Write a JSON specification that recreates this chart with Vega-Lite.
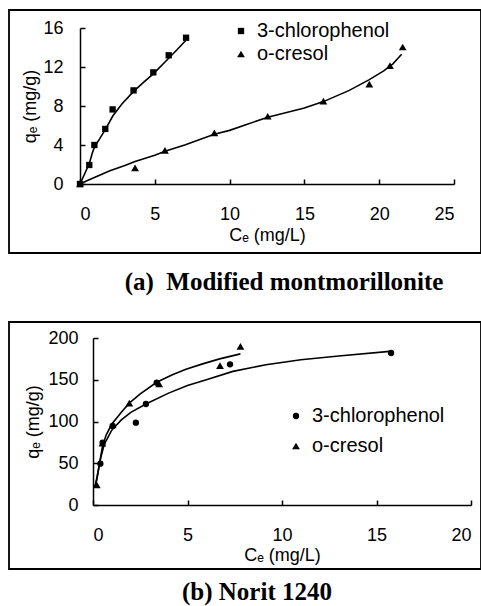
{
  "$schema": "https://vega.github.io/schema/vega-lite/v6.json",
  "padding": {"left": 8, "top": 9, "right": 0, "bottom": 0},
  "background": "white",
  "bounds": "flush",
  "spacing": 69,
  "config": {
    "view": {"stroke": "black", "strokeWidth": 1.8},
    "axis": {
      "grid": false,
      "domainColor": "black", "domainWidth": 1.5,
      "tickColor": "black", "tickWidth": 1.5, "tickSize": -5,
      "labelColor": "black", "labelFont": "Liberation Sans", "labelFontSize": 18,
      "titleColor": "black", "titleFont": "Liberation Sans", "titleFontSize": 18, "titleFontWeight": "normal"
    },
    "legend": {
      "labelFont": "Liberation Sans", "labelFontSize": 20, "labelColor": "black",
      "padding": 0, "symbolFillColor": "black", "symbolStrokeColor": "black", "labelOffset": 6
    }
  },
  "datasets": {
    "aPoints": [
      {"series": "3-chlorophenol", "Ce": 0, "qe": 0},
      {"series": "3-chlorophenol", "Ce": 0.62, "qe": 1.95},
      {"series": "3-chlorophenol", "Ce": 0.96, "qe": 4.0},
      {"series": "3-chlorophenol", "Ce": 1.69, "qe": 5.65},
      {"series": "3-chlorophenol", "Ce": 2.18, "qe": 7.65},
      {"series": "3-chlorophenol", "Ce": 3.58, "qe": 9.6},
      {"series": "3-chlorophenol", "Ce": 4.9, "qe": 11.45},
      {"series": "3-chlorophenol", "Ce": 5.93, "qe": 13.2},
      {"series": "3-chlorophenol", "Ce": 7.09, "qe": 15.0},
      {"series": "o-cresol", "Ce": 0, "qe": 0},
      {"series": "o-cresol", "Ce": 3.68, "qe": 1.65},
      {"series": "o-cresol", "Ce": 5.68, "qe": 3.45},
      {"series": "o-cresol", "Ce": 8.98, "qe": 5.25},
      {"series": "o-cresol", "Ce": 12.55, "qe": 6.95},
      {"series": "o-cresol", "Ce": 16.27, "qe": 8.5},
      {"series": "o-cresol", "Ce": 19.34, "qe": 10.25},
      {"series": "o-cresol", "Ce": 20.72, "qe": 12.15},
      {"series": "o-cresol", "Ce": 21.57, "qe": 14.05}
    ],
    "aCurve": [
      {"series": "3-chlorophenol", "Ce": 0, "qe": 0},
      {"series": "3-chlorophenol", "Ce": 0.3, "qe": 1.0},
      {"series": "3-chlorophenol", "Ce": 0.62, "qe": 2.1},
      {"series": "3-chlorophenol", "Ce": 0.85, "qe": 3.3},
      {"series": "3-chlorophenol", "Ce": 1.0, "qe": 3.9},
      {"series": "3-chlorophenol", "Ce": 1.3, "qe": 4.6},
      {"series": "3-chlorophenol", "Ce": 1.7, "qe": 5.6},
      {"series": "3-chlorophenol", "Ce": 2.2, "qe": 7.0},
      {"series": "3-chlorophenol", "Ce": 2.8, "qe": 8.2},
      {"series": "3-chlorophenol", "Ce": 3.58, "qe": 9.5},
      {"series": "3-chlorophenol", "Ce": 4.3, "qe": 10.5},
      {"series": "3-chlorophenol", "Ce": 4.9, "qe": 11.3},
      {"series": "3-chlorophenol", "Ce": 5.93, "qe": 12.9},
      {"series": "3-chlorophenol", "Ce": 6.5, "qe": 13.8},
      {"series": "3-chlorophenol", "Ce": 7.05, "qe": 14.7},
      {"series": "o-cresol", "Ce": 0, "qe": 0},
      {"series": "o-cresol", "Ce": 0.5, "qe": 0.35},
      {"series": "o-cresol", "Ce": 1, "qe": 0.7},
      {"series": "o-cresol", "Ce": 2, "qe": 1.35},
      {"series": "o-cresol", "Ce": 3, "qe": 1.9},
      {"series": "o-cresol", "Ce": 3.68, "qe": 2.3},
      {"series": "o-cresol", "Ce": 5, "qe": 2.95},
      {"series": "o-cresol", "Ce": 5.68, "qe": 3.35},
      {"series": "o-cresol", "Ce": 7, "qe": 4.0},
      {"series": "o-cresol", "Ce": 8.98, "qe": 5.1},
      {"series": "o-cresol", "Ce": 10, "qe": 5.5},
      {"series": "o-cresol", "Ce": 12.55, "qe": 6.85},
      {"series": "o-cresol", "Ce": 15, "qe": 7.8},
      {"series": "o-cresol", "Ce": 16.27, "qe": 8.45},
      {"series": "o-cresol", "Ce": 18, "qe": 9.6},
      {"series": "o-cresol", "Ce": 19.34, "qe": 10.7},
      {"series": "o-cresol", "Ce": 20.3, "qe": 11.6},
      {"series": "o-cresol", "Ce": 20.9, "qe": 12.3},
      {"series": "o-cresol", "Ce": 21.5, "qe": 13.3}
    ],
    "bPoints": [
      {"series": "3-chlorophenol", "Ce": 0.39, "qe": 49.5},
      {"series": "3-chlorophenol", "Ce": 0.51, "qe": 74.6},
      {"series": "3-chlorophenol", "Ce": 1.04, "qe": 94.6},
      {"series": "3-chlorophenol", "Ce": 2.27, "qe": 98.6},
      {"series": "3-chlorophenol", "Ce": 2.8, "qe": 121},
      {"series": "3-chlorophenol", "Ce": 3.37, "qe": 146.5},
      {"series": "3-chlorophenol", "Ce": 7.25, "qe": 168.5},
      {"series": "3-chlorophenol", "Ce": 15.77, "qe": 182},
      {"series": "o-cresol", "Ce": 0.2, "qe": 24},
      {"series": "o-cresol", "Ce": 0.5, "qe": 74},
      {"series": "o-cresol", "Ce": 1.04, "qe": 96},
      {"series": "o-cresol", "Ce": 1.92, "qe": 122},
      {"series": "o-cresol", "Ce": 3.5, "qe": 145},
      {"series": "o-cresol", "Ce": 6.72, "qe": 167},
      {"series": "o-cresol", "Ce": 7.8, "qe": 190}
    ],
    "bCurve": [
      {"series": "3-chlorophenol", "Ce": 0.1, "qe": 22},
      {"series": "3-chlorophenol", "Ce": 0.2, "qe": 32},
      {"series": "3-chlorophenol", "Ce": 0.4, "qe": 56},
      {"series": "3-chlorophenol", "Ce": 0.6, "qe": 73},
      {"series": "3-chlorophenol", "Ce": 1, "qe": 90},
      {"series": "3-chlorophenol", "Ce": 1.5, "qe": 102},
      {"series": "3-chlorophenol", "Ce": 2, "qe": 111},
      {"series": "3-chlorophenol", "Ce": 2.8, "qe": 121},
      {"series": "3-chlorophenol", "Ce": 4, "qe": 134},
      {"series": "3-chlorophenol", "Ce": 5, "qe": 143},
      {"series": "3-chlorophenol", "Ce": 6, "qe": 150},
      {"series": "3-chlorophenol", "Ce": 7.4, "qe": 160},
      {"series": "3-chlorophenol", "Ce": 9.15, "qe": 168},
      {"series": "3-chlorophenol", "Ce": 11, "qe": 174},
      {"series": "3-chlorophenol", "Ce": 13, "qe": 178.5},
      {"series": "3-chlorophenol", "Ce": 15.7, "qe": 184},
      {"series": "o-cresol", "Ce": 0.1, "qe": 22},
      {"series": "o-cresol", "Ce": 0.2, "qe": 30},
      {"series": "o-cresol", "Ce": 0.35, "qe": 50},
      {"series": "o-cresol", "Ce": 0.5, "qe": 70},
      {"series": "o-cresol", "Ce": 0.7, "qe": 84},
      {"series": "o-cresol", "Ce": 1, "qe": 97},
      {"series": "o-cresol", "Ce": 1.5, "qe": 111},
      {"series": "o-cresol", "Ce": 1.92, "qe": 122},
      {"series": "o-cresol", "Ce": 2.5, "qe": 133},
      {"series": "o-cresol", "Ce": 3.37, "qe": 147},
      {"series": "o-cresol", "Ce": 4.2, "qe": 156},
      {"series": "o-cresol", "Ce": 4.92, "qe": 162.5},
      {"series": "o-cresol", "Ce": 5.8, "qe": 169},
      {"series": "o-cresol", "Ce": 6.7, "qe": 175},
      {"series": "o-cresol", "Ce": 7.8, "qe": 181}
    ]
  },
  "vconcat": [
    {
      "width": 472,
      "height": 243,
      "title": {"text": "(a)\u00a0 Modified montmorillonite", "orient": "bottom", "anchor": "middle", "dx": 39, "offset": 17, "font": "Liberation Serif", "fontSize": 25, "fontWeight": "bold", "color": "black"},
      "encoding": {
        "x": {"field": "Ce", "type": "quantitative",
          "scale": {"domain": [0, 25], "range": [71, 445], "nice": false, "zero": false},
          "axis": {"values": [0, 5, 10, 15, 20, 25], "offset": -69, "labelPadding": 26, "title": "C\u2091 (mg/L)", "titlePadding": 3}},
        "y": {"field": "qe", "type": "quantitative",
          "scale": {"domain": [0, 16], "range": [174, 18], "nice": false, "zero": false},
          "axis": {"values": [0, 4, 8, 12, 16], "offset": -71, "labelPadding": 22, "title": "q\u2091 (mg/g)", "titlePadding": 3}}
      },
      "layer": [
        {
          "data": {"name": "aCurve"},
          "mark": {"type": "line", "color": "black", "strokeWidth": 1.6},
          "encoding": {"detail": {"field": "series"}}
        },
        {
          "data": {"name": "aPoints"},
          "mark": {"type": "point", "filled": true, "color": "black", "opacity": 1},
          "encoding": {
            "shape": {"field": "series", "type": "nominal",
              "scale": {"domain": ["3-chlorophenol", "o-cresol"], "range": ["square", "triangle-up"]},
              "legend": {"title": null, "orient": "none", "legendX": 222, "legendY": 11, "rowPadding": 3}},
            "size": {"field": "series", "type": "nominal",
              "scale": {"domain": ["3-chlorophenol", "o-cresol"], "range": [40, 60]},
              "legend": {"title": null, "orient": "none", "legendX": 222, "legendY": 11, "rowPadding": 3}}
          }
        }
      ]
    },
    {
      "width": 472,
      "height": 247,
      "title": {"text": "(b) Norit 1240", "orient": "bottom", "anchor": "middle", "dx": 12, "offset": 11, "font": "Liberation Serif", "fontSize": 25, "fontWeight": "bold", "color": "black"},
      "encoding": {
        "x": {"field": "Ce", "type": "quantitative",
          "scale": {"domain": [0, 20], "range": [84, 462], "nice": false, "zero": false},
          "axis": {"values": [0, 5, 10, 15, 20], "offset": -64, "labelPadding": 26, "title": "C\u2091 (mg/L)", "titlePadding": 2}},
        "y": {"field": "qe", "type": "quantitative",
          "scale": {"domain": [0, 200], "range": [183, 16], "nice": false, "zero": false},
          "axis": {"values": [0, 50, 100, 150, 200], "offset": -84, "labelPadding": 20, "title": "q\u2091 (mg/g)", "titlePadding": 5}}
      },
      "layer": [
        {
          "data": {"name": "bCurve"},
          "mark": {"type": "line", "color": "black", "strokeWidth": 1.6},
          "encoding": {"detail": {"field": "series"}}
        },
        {
          "data": {"name": "bPoints"},
          "mark": {"type": "point", "filled": true, "color": "black", "opacity": 1},
          "encoding": {
            "shape": {"field": "series", "type": "nominal",
              "scale": {"domain": ["3-chlorophenol", "o-cresol"], "range": ["circle", "triangle-up"]},
              "legend": {"title": null, "orient": "none", "legendX": 277, "legendY": 84, "rowPadding": 10}},
            "size": {"field": "series", "type": "nominal",
              "scale": {"domain": ["3-chlorophenol", "o-cresol"], "range": [40, 60]},
              "legend": {"title": null, "orient": "none", "legendX": 277, "legendY": 84, "rowPadding": 10}}
          }
        }
      ]
    }
  ],
  "resolve": {"scale": {"shape": "independent", "size": "independent"}, "legend": {"shape": "independent", "size": "independent"}}
}
